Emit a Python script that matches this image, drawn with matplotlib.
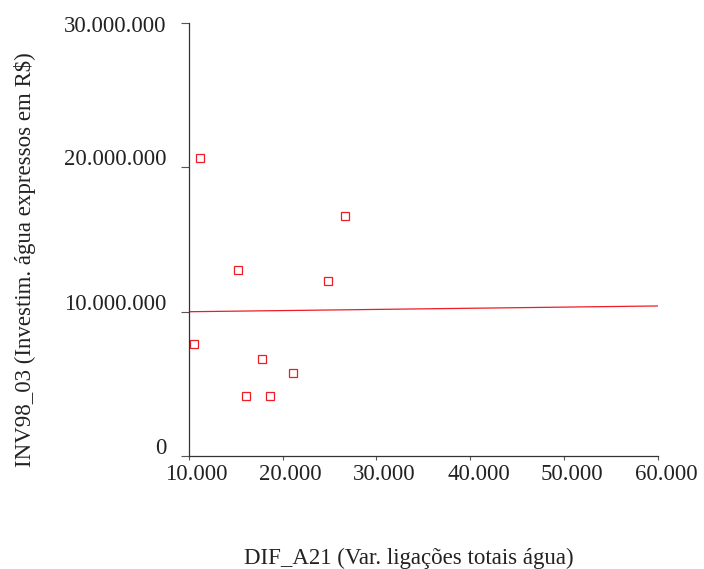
import matplotlib
matplotlib.use("Agg")
import matplotlib.pyplot as plt
import matplotlib.transforms as mtransforms

# scatter of water connection growth vs. water investment
dif_a21 = [15300, 24800, 10550, 17780, 21100, 16070, 18690, 11170, 26650]
inv98_03 = [12890000, 12110000, 7730000, 6730000, 5720000,
            4150000, 4150000, 20640000, 16590000]

# fitted line endpoints
fit_x = [10000, 60000]
fit_y = [9990000, 10390000]

x_ticks = [10000, 20000, 30000, 40000, 50000, 60000]
x_labels = ["10.000", "20.000", "30.000", "40.000", "50.000", "60.000"]
y_ticks = [0, 10000000, 20000000, 30000000]
y_labels = ["0", "10.000.000", "20.000.000", "30.000.000"]

red = "#ee1c24"
fs = 16.5
plt.rcParams["font.family"] = ["Liberation Serif", "DejaVu Serif"]

fig = plt.figure(figsize=(7.04, 5.69), dpi=100)
ax = fig.add_axes([0.268, 0.1986, 0.667, 0.7614])

ax.plot(fit_x, fit_y, color=red, lw=0.9)
ax.plot(dif_a21, inv98_03, ls="none", marker="s", ms=5.5, mfc="white",
        mec=red, mew=0.9)

ax.set_xlim(10000, 60000)
ax.set_ylim(0, 30000000)
ax.spines["top"].set_visible(False)
ax.spines["right"].set_visible(False)
for s in ("left", "bottom"):
    ax.spines[s].set_color("#333333")
    ax.spines[s].set_linewidth(0.9)

ax.set_xticks(x_ticks)
ax.set_xticklabels(x_labels, fontsize=fs)
ax.set_yticks(y_ticks)
ax.set_yticklabels(y_labels, fontsize=fs)
ax.tick_params(axis="x", length=3, width=0.8, pad=3,
               colors="#555555", labelcolor="#222222")
ax.tick_params(axis="y", length=6, width=0.8, pad=10,
               colors="#555555", labelcolor="#222222")

# nudge tick labels: x labels right, y labels up
dx = mtransforms.ScaledTranslation(8 / 100, 0, fig.dpi_scale_trans)
for lab in ax.get_xticklabels():
    lab.set_transform(lab.get_transform() + dx)
ylabs = ax.get_yticklabels()
for i, lab in enumerate(ylabs):
    shift = -1 if i == len(ylabs) - 1 else 10
    dy = mtransforms.ScaledTranslation(0, shift / 100, fig.dpi_scale_trans)
    lab.set_transform(lab.get_transform() + dy)

fig.text(409 / 704, 1 - 558 / 569, "DIF_A21 (Var. ligações totais água)",
         ha="center", va="center", fontsize=fs, color="#222222")
fig.text(25 / 704, 1 - 260 / 569, "INV98_03 (Investim. água expressos em R$)",
         ha="center", va="center", rotation=90, fontsize=fs, color="#222222")

fig.savefig("out.png", dpi=100)
